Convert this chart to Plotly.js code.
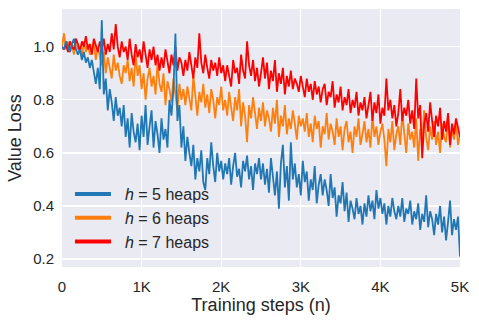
<!DOCTYPE html>
<html><head><meta charset="utf-8">
<script src="https://cdn.plot.ly/plotly-3.0.1.min.js"></script>
<style>html,body{margin:0;padding:0;background:#fff}#c{width:479px;height:322px}</style>
</head><body><div id="c"></div>
<script>
const STEP = 25;
const seriesNames = ["<i>h</i> = 5 heaps", "<i>h</i> = 6 heaps", "<i>h</i> = 7 heaps"];
const seriesColors = ["#2077b4", "#ff7f0e", "#ff0000"];
const xTickVals = [0, 1000, 2000, 3000, 4000, 5000];
const xTickText = ["0", "1K", "2K", "3K", "4K", "5K"];
const yTickVals = [0.2, 0.4, 0.6, 0.8, 1.0];
const yTickText = ["0.2", "0.4", "0.6", "0.8", "1.0"];

const lossH5 = [
1.00,0.99,1.02,1.00,0.98,1.01,1.03,0.99,
0.97,0.99,0.95,0.98,0.94,0.96,0.92,0.95,
0.90,0.86,0.92,0.84,
1.10,
0.82,0.88,0.76,0.84,0.79,0.72,0.81,0.74,0.77,
0.70,0.78,0.66,0.73,0.62,0.75,0.68,0.64,0.71,0.61,
0.74,0.66,0.78,0.63,0.70,0.76,0.62,0.72,0.67,0.60,
0.73,0.65,0.69,0.62,0.80,0.74,
0.84,1.05,0.72,
0.78,0.62,0.70,0.57,0.66,0.60,
0.55,0.63,0.50,0.58,0.53,0.61,0.49,0.46,
0.58,0.52,0.64,0.55,0.49,0.60,0.53,0.57,0.50,0.56,
0.52,0.58,0.48,0.55,0.60,0.51,0.54,0.47,0.57,0.53,0.59,0.50,0.55,0.46,0.56,0.52,0.58,0.50,
0.56,0.48,0.54,0.45,0.58,0.51,0.44,0.53,0.39,0.56,
0.63,0.47,0.55,0.42,0.64,0.50,
0.56,0.47,0.52,0.44,0.57,0.49,0.53,0.42,0.50,0.46,0.55,0.41,0.48,0.52,0.44,0.50,
0.46,0.40,0.52,0.43,0.47,0.36,0.44,0.41,0.49,0.38,0.45,0.34,0.42,0.39,0.35,0.43,0.37,0.40,0.33,
0.41,0.36,0.44,0.38,0.42,0.35,0.46,0.39,0.43,0.37,0.41,0.33,0.40,0.36,0.43,0.38,0.35,
0.40,0.36,0.43,0.34,0.39,0.37,0.42,0.33,0.38,0.35,0.41,0.31,0.37,0.34,0.44,0.32,0.38,
0.35,0.29,0.37,0.33,0.40,0.30,0.36,0.27,0.34,0.42,0.29,0.35,0.31,0.36,0.21
];
const lossH6 = [
1.00,1.05,0.99,1.02,0.98,1.01,0.97,1.03,0.99,1.00,0.96,1.02,0.98,1.01,0.97,0.99,1.02,0.95,1.00,0.97,
0.93,0.98,0.90,0.96,0.92,0.88,0.97,0.91,0.94,0.89,0.86,0.93,
0.90,0.95,0.87,0.92,0.85,0.97,0.89,0.93,0.84,0.90,0.80,0.88,0.92,0.85,0.89,0.82,0.94,0.86,
0.83,0.90,0.78,0.87,0.84,0.79,0.88,0.82,0.76,0.86,0.80,0.84,
0.78,0.85,0.81,0.76,0.89,0.80,0.74,0.83,0.79,0.86,0.77,0.82,0.75,0.84,0.80,0.73,0.81,0.78,0.85,0.76,
0.80,0.74,0.83,0.77,0.72,0.81,0.76,0.84,0.70,0.79,0.74,0.64,0.78,0.73,0.81,0.75,0.69,0.77,0.72,
0.79,0.70,0.76,0.73,0.68,0.77,0.71,0.80,0.66,0.74,0.70,0.78,0.67,0.73,0.69,0.76,0.71,0.65,0.74,0.70,
0.73,0.68,0.75,0.66,0.71,0.64,0.74,0.69,0.72,0.62,0.70,0.67,0.75,0.65,0.71,0.68,0.63,0.73,0.66,0.70,0.61,0.69,0.72,0.64,0.68,0.60,0.70,0.66,0.73,0.63,0.67,
0.72,0.64,0.69,0.62,0.74,0.66,0.70,0.63,0.68,0.71,0.65,0.55,0.69,0.64,0.72,0.61,0.67,0.70,0.63,0.75,0.66,0.60,0.71,0.65,
0.68,0.62,0.73,0.57,0.69,0.64,0.76,0.66,0.61,0.70,0.65,0.72,0.63,0.68,0.60,0.71,0.66,0.64,0.74,0.62,0.69,0.65,0.72,0.63,0.67
];
const lossH7 = [
1.00,0.99,1.01,0.98,1.02,1.00,0.99,1.03,1.01,0.98,1.02,1.00,1.04,0.99,1.01,0.97,1.03,1.00,0.98,1.02,
0.99,1.03,0.97,1.01,0.98,1.05,0.99,1.085,1.00,0.96,1.02,0.98,
1.00,0.95,1.03,0.97,0.93,1.01,0.96,0.99,0.94,1.02,0.97,0.92,0.99,0.95,1.00,0.93,0.97,0.91,
0.96,0.92,0.99,0.94,0.90,0.97,0.93,1.00,0.91,0.96,0.94,0.89,
0.95,0.91,0.98,0.93,0.88,0.96,0.92,1.05,0.94,0.90,0.97,0.92,0.88,0.95,0.91,0.94,0.89,0.96,0.90,0.93,
0.87,0.93,0.89,0.85,0.95,0.90,0.92,0.86,0.97,0.91,0.88,1.02,0.93,0.89,0.95,0.87,0.92,0.85,0.90,
0.96,0.88,0.94,0.84,0.91,0.87,0.95,0.83,0.90,0.86,0.92,0.82,0.89,0.85,0.91,0.84,0.88,0.86,0.83,0.89,
0.85,0.81,0.88,0.83,0.86,0.80,0.87,0.82,0.85,0.79,0.84,0.86,0.78,0.83,0.81,0.87,0.77,0.82,0.79,0.85,0.76,0.81,0.78,0.84,0.75,0.80,0.77,0.83,0.74,0.79,0.76,
0.81,0.73,0.78,0.83,0.72,0.79,0.75,0.82,0.71,0.77,0.74,0.88,0.76,0.80,0.73,0.78,0.70,0.75,0.84,0.72,0.77,0.74,0.80,0.71,
0.76,0.69,0.88,0.73,0.78,0.58,0.71,0.75,0.68,0.79,0.72,0.66,0.74,0.70,0.77,0.65,0.72,0.68,0.75,0.63,0.71,0.67,0.73,0.69,0.66
];

const allSeries = [lossH5, lossH6, lossH7];
const traces = [];
const drawOrder = [1, 2, 0];
drawOrder.forEach(k => {
  const ys = allSeries[k];
  traces.push({
    type: "scatter", mode: "lines",
    x: ys.map((_, i) => i * STEP), y: ys,
    line: {color: seriesColors[k], width: 1.8},
    showlegend: false, hoverinfo: "skip"
  });
});
[0, 1, 2].forEach(k => {
  traces.push({
    type: "scatter", mode: "lines", x: [null], y: [null],
    name: seriesNames[k],
    line: {color: seriesColors[k], width: 4},
    showlegend: true
  });
});

const font = "Liberation Sans, Arial, sans-serif";
const ink = "#262626";
const layout = {
  width: 479, height: 322,
  margin: {l: 62, r: 18.5, t: 9, b: 55, pad: 0},
  paper_bgcolor: "#ffffff",
  plot_bgcolor: "#eaeaf2",
  font: {family: font, color: ink, size: 15},
  showlegend: true,
  legend: {
    x: 0.02, y: 0.031, xanchor: "left", yanchor: "bottom",
    bgcolor: "rgba(0,0,0,0)", borderwidth: 0,
    font: {family: font, size: 16, color: ink},
    itemwidth: 45, tracegroupgap: 0
  },
  xaxis: {
    range: [0, 5000],
    tickmode: "array", tickvals: xTickVals, ticktext: xTickText,
    showgrid: true, gridcolor: "#ffffff", gridwidth: 1.3,
    zeroline: false, showline: false, ticks: "",
    ticklabelstandoff: 9,
    tickfont: {family: font, size: 15, color: ink},
    title: {text: "Training steps (n)", font: {family: font, size: 18, color: ink}, standoff: 0},
    automargin: false
  },
  yaxis: {
    range: [0.170, 1.142],
    tickmode: "array", tickvals: yTickVals, ticktext: yTickText,
    showgrid: true, gridcolor: "#ffffff", gridwidth: 1.3,
    zeroline: false, showline: false, ticks: "",
    ticklabelstandoff: 7,
    tickfont: {family: font, size: 15, color: ink},
    title: {text: "Value Loss", font: {family: font, size: 18, color: ink}, standoff: 6},
    automargin: false
  }
};
Plotly.newPlot("c", traces, layout, {staticPlot: true, displayModeBar: false}).then(gd => {
  gd.querySelectorAll(".legendlines path").forEach(p => p.setAttribute("d", "M5,0h36"));
});
</script>
</body></html>
